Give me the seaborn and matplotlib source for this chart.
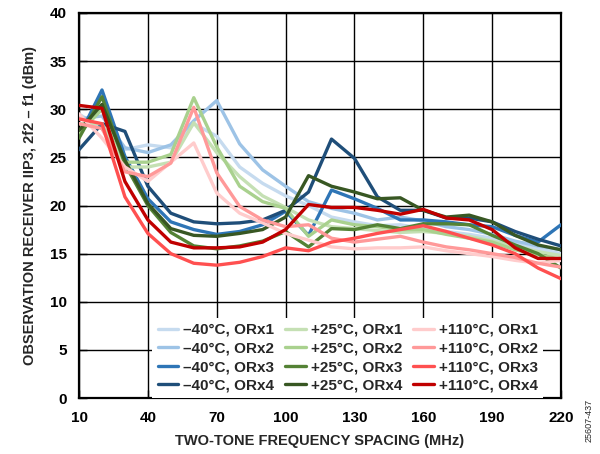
import numpy as np
import pandas as pd
import matplotlib
matplotlib.use("Agg")
import matplotlib.pyplot as plt
import seaborn as sns

# frequency spacing (MHz)
freq = list(range(10, 230, 10))

# IIP3 values (dBm)
m40_orx1 = [29.5, 28.0, 25.8, 26.3, 26.0, 28.5, 27.2, 24.0, 22.3, 21.0, 20.0,
            18.8, 18.3, 17.9, 18.0, 17.6, 17.3, 17.0, 16.6, 16.0, 15.5, 15.0]
m40_orx2 = [29.0, 29.3, 26.0, 25.5, 26.3, 28.8, 30.9, 26.4, 23.7, 22.0, 20.4,
            19.7, 19.2, 18.5, 18.8, 18.4, 17.8, 17.5, 17.0, 16.3, 15.8, 15.4]
m40_orx3 = [27.2, 32.0, 25.1, 20.7, 18.3, 17.5, 17.0, 17.3, 18.0, 19.4, 16.9,
            21.6, 20.7, 19.7, 18.5, 18.5, 18.3, 18.0, 17.8, 16.9, 16.2, 18.0]
m40_orx4 = [25.8, 28.5, 27.7, 22.0, 19.2, 18.3, 18.1, 18.2, 18.5, 19.5, 21.4,
            26.9, 24.9, 20.9, 19.5, 19.5, 18.7, 18.7, 18.3, 17.3, 16.5, 15.8]
p25_orx1 = [28.5, 28.5, 24.0, 24.0, 24.5, 28.6, 25.5, 23.0, 21.0, 19.8, 18.5,
            17.8, 17.6, 17.4, 17.2, 17.3, 17.1, 16.8, 16.3, 15.8, 15.2, 14.8]
p25_orx2 = [27.5, 30.0, 24.5, 24.5, 25.3, 31.2, 26.1, 22.0, 20.4, 19.7, 16.8,
            18.5, 18.0, 17.8, 17.5, 17.5, 17.0, 16.6, 16.2, 15.4, 14.9, 14.4]
p25_orx3 = [27.0, 31.3, 24.3, 20.0, 17.2, 15.8, 15.5, 15.8, 16.3, 17.3, 15.7,
            17.6, 17.5, 18.0, 17.6, 18.1, 18.1, 18.0, 16.9, 15.9, 15.0, 13.5]
p25_orx4 = [27.8, 30.5, 24.7, 20.2, 17.6, 16.9, 16.8, 17.1, 17.5, 18.8, 23.1,
            22.0, 21.4, 20.7, 20.8, 19.5, 18.8, 19.0, 18.3, 16.9, 15.9, 15.4]
p110_orx1 = [29.5, 27.0, 24.0, 22.5, 24.5, 26.5, 21.3, 19.2, 18.2, 17.1, 16.4,
             15.7, 15.5, 15.6, 15.6, 15.7, 15.3, 15.0, 14.7, 14.3, 14.0, 14.3]
p110_orx2 = [28.5, 28.0, 23.5, 23.0, 24.4, 30.2, 23.4, 19.9, 18.5, 17.8, 18.0,
             16.6, 16.2, 16.5, 16.8, 16.2, 15.7, 15.4, 15.0, 14.6, 14.0, 13.6]
p110_orx3 = [29.0, 28.5, 20.9, 17.1, 15.0, 14.0, 13.8, 14.1, 14.7, 15.6, 15.3,
             16.2, 16.6, 17.1, 17.5, 17.9, 17.3, 16.6, 15.9, 15.0, 13.5, 12.4]
p110_orx4 = [30.4, 30.1, 22.5, 18.5, 16.2, 15.6, 15.6, 15.7, 16.2, 17.5, 20.1,
             19.8, 19.8, 19.5, 19.1, 19.6, 18.7, 18.5, 17.5, 15.6, 14.5, 14.5]

labels = ["\u201340°C, ORx1", "\u201340°C, ORx2", "\u201340°C, ORx3", "\u201340°C, ORx4",
          "+25°C, ORx1", "+25°C, ORx2", "+25°C, ORx3", "+25°C, ORx4",
          "+110°C, ORx1", "+110°C, ORx2", "+110°C, ORx3", "+110°C, ORx4"]
series = [m40_orx1, m40_orx2, m40_orx3, m40_orx4,
          p25_orx1, p25_orx2, p25_orx3, p25_orx4,
          p110_orx1, p110_orx2, p110_orx3, p110_orx4]
colors = ["#c6dbef", "#9dc3e6", "#2e75b6", "#1f4e79",
          "#c5e0b4", "#a9d18e", "#548235", "#385723",
          "#ffcccc", "#ff9999", "#ff5050", "#c00000"]

df = pd.concat([pd.DataFrame({"freq": freq, "iip3": s, "series": lab})
                for s, lab in zip(series, labels)], ignore_index=True)

sns.set_theme(style="ticks")
plt.rcParams["font.family"] = ["Liberation Sans", "DejaVu Sans"]
plt.rcParams["font.weight"] = "bold"

fig = plt.figure(figsize=(6, 4.54), dpi=100)
ax = fig.add_axes([0.1317, 0.1233, 0.8033, 0.8481])

sns.lineplot(data=df, x="freq", y="iip3", hue="series", hue_order=labels,
             palette=colors, linewidth=2.4, ax=ax, zorder=3)

ax.set_xlim(10, 220)
ax.set_ylim(0, 40)
ax.set_xticks(range(10, 221, 30))
ax.set_yticks(range(0, 41, 5))
ax.grid(True, color="black", linewidth=1.0)
ax.set_axisbelow(True)
for sp in ax.spines.values():
    sp.set_color("black")
    sp.set_linewidth(1.6)
ax.tick_params(direction="in", length=6, width=1, colors="black", labelsize=11, pad=9)
for t in ax.get_xticklabels() + ax.get_yticklabels():
    t.set_fontweight("bold")

ax.set_xlabel("TWO-TONE FREQUENCY SPACING (MHz)", fontsize=10.5, fontweight="bold", labelpad=7)
ax.set_ylabel("OBSERVATION RECEIVER IIP3, 2f2 \u2013 f1 (dBm)", fontsize=10.5,
              fontweight="bold", labelpad=9)

handles, labs = ax.get_legend_handles_labels()
leg = ax.legend(handles, labs, ncol=3, loc="lower left", bbox_to_anchor=(0.152, 0.0),
                borderaxespad=0, frameon=True, fancybox=False, facecolor="white",
                edgecolor="none", framealpha=1, fontsize=11, handlelength=1.35,
                handletextpad=0.3, labelspacing=0.3, columnspacing=0.75, borderpad=0.35)
for t in leg.get_texts():
    t.set_fontweight("bold")
leg.set_zorder(5)

fig.text(0.982, 0.075, "25607-437", rotation=90, fontsize=6.5, fontweight="normal",
         ha="center", va="center")

fig.savefig("out.png", dpi=100)
